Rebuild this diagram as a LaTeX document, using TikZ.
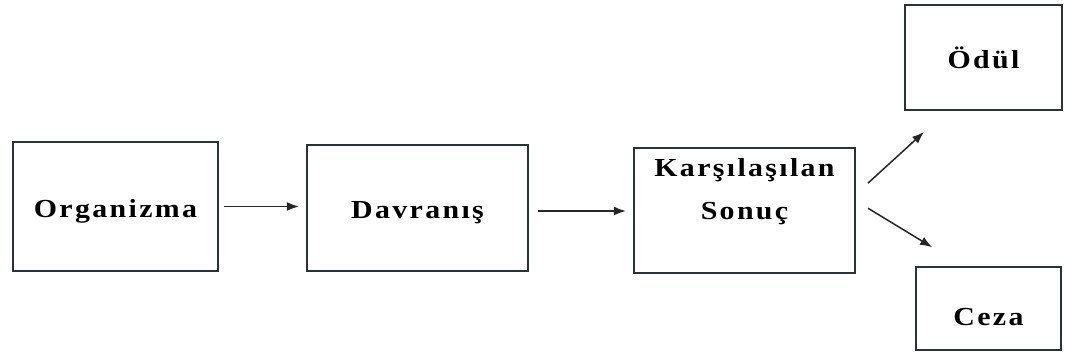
\documentclass[tikz,border=0pt]{standalone}
\usepackage{fontspec}
\setmainfont{Liberation Serif}[FakeStretch=1.15,LetterSpace=9]
\usepackage{tikz}
\usetikzlibrary{calc,positioning,arrows.meta}
\definecolor{boxline}{RGB}{40,52,58}

\begin{document}
\begin{tikzpicture}[
      x=1pt, y=-1pt,
      every node/.style={rectangle,draw=boxline,line width=2.2pt,inner sep=0pt,
                         font=\fontsize{26}{43}\selectfont\bfseries,align=center,
                         text height=25pt,text depth=3pt},
      arr/.style={draw=black!85,line width=1.5pt,-{Latex[length=12pt,width=9pt]}}]
    \useasboundingbox (0,0) rectangle (1065,363);
    \node[minimum width=205pt,minimum height=129pt] (org)  at (115.5,206.5) {Organizma};
    \node[minimum width=221pt,minimum height=126pt] (dav)  at (417.5,208)   {Davranış};
    \node[minimum width=221pt,minimum height=125pt,text height=28pt,text depth=9pt]
        (kars) at (744.5,210.5) {Karşılaşılan\\Sonuç};
    \node[minimum width=157pt,minimum height=105pt] (odul) at (983.5,57.5)  {Ödül};
    \node[minimum width=145pt,minimum height=83pt,text height=40pt,text depth=7pt]
        (ceza) at (988.5,308.5) {Ceza};
    % connectors
    \draw[arr,shorten <=5pt,shorten >=7pt] (org.east) -- (org.east -| dav.west);
    \draw[arr,shorten <=9pt,shorten >=7pt] ([yshift=-3pt]dav.east) -- ([yshift=-3pt]dav.east -| kars.west);
    \draw[arr,shorten <=16pt,shorten >=31pt] ([yshift=16.5pt]kars.east) -- ([xshift=43pt]odul.south west);
    \draw[arr,shorten <=14pt,shorten >=36pt] ([yshift=9.5pt]kars.east) -- ([xshift=48pt]ceza.north west);
  \end{tikzpicture}
\end{document}
